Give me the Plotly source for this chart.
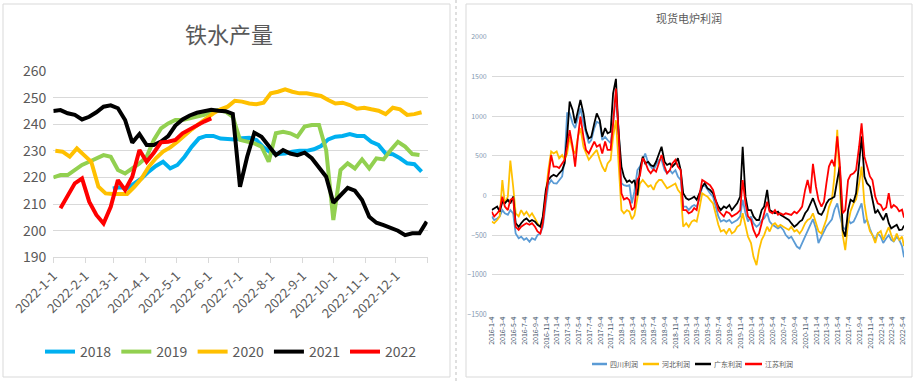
import plotly.graph_objects as go
import pandas as pd

W, H = 916, 381
def px(x): return x / W
def py(y): return 1 - y / H

FONT = "Microsoft YaHei, Noto Sans CJK SC, sans-serif"
GRID = "#d9d9d9"
TXT = "#595959"

# ---------------- Left chart: 铁水产量 (weekly) ----------------
left_title = "铁水产量"
left_years = ["2018", "2019", "2020", "2021", "2022"]
left_colors = ["#00B0F0", "#92D050", "#FFC000", "#000000", "#FF0000"]
left_starts = ["2022-02-28", "2022-01-01", "2022-01-03", "2022-01-01", "2022-01-08"]
left_month_ticks = ["2022-01-01", "2022-02-01", "2022-03-01", "2022-04-01", "2022-05-01", "2022-06-01",
                    "2022-07-01", "2022-08-01", "2022-09-01", "2022-10-01", "2022-11-01", "2022-12-01", "2023-01-01"]
left_tick_labels = ["2022-1-1", "2022-2-1", "2022-3-1", "2022-4-1", "2022-5-1", "2022-6-1",
                    "2022-7-1", "2022-8-1", "2022-9-1", "2022-10-1", "2022-11-1", "2022-12-1", ""]

iron_2018 = [215.9, 216.3, 215.9, 217.8, 219.6, 222.2, 224.3, 225.9, 223.4, 224.7,
             227.8, 231.6, 234.7, 235.6, 235.6, 234.6, 234.6, 234.3, 234.7, 234.9,
             234.1, 231.3, 229.3, 228.8, 229.0, 229.7, 230.0, 230.0, 230.6, 231.8,
             234.3, 235.3, 235.6, 236.3, 235.6, 235.6, 233.4, 232.2, 229.0, 228.7,
             227.2, 225.3, 225.0, 222.2]
iron_2019 = [220.0, 220.9, 220.9, 222.8, 224.7, 225.9, 227.2, 228.4, 227.8, 222.8,
             221.5, 223.4, 225.3, 227.8, 234.1, 238.4, 240.3, 241.6, 241.6, 242.2,
             242.8, 243.5, 244.7, 245.3, 244.7, 242.8, 234.1, 233.4, 232.8, 231.6,
             225.9, 236.6, 237.2, 236.6, 235.3, 239.1, 239.7, 239.7, 230.3, 204.0,
             222.8, 225.3, 223.4, 226.8, 223.4, 227.2, 226.8, 230.3, 233.4, 231.6,
             228.8, 228.4]
iron_2020 = [230.0, 229.7, 227.8, 230.9, 228.4, 225.9, 216.5, 214.0, 213.8, 213.8,
             213.8, 216.5, 219.6, 224.0, 227.2, 229.7, 231.3, 233.4, 235.9, 238.1,
             240.1, 242.2, 244.1, 245.6, 246.6, 248.8, 248.5, 247.8, 247.5, 248.1,
             251.6, 252.2, 253.1, 252.2, 251.6, 251.6, 251.1, 250.6, 249.1, 247.8,
             248.1, 247.2, 245.8, 246.2, 245.6, 245.1, 243.8, 246.2, 245.6, 243.5,
             243.8, 244.5]
iron_2021 = [245.0, 245.3, 244.1, 243.5, 241.8, 242.8, 244.5, 246.6, 247.1, 246.0,
             241.6, 233.1, 236.3, 232.2, 232.2, 233.5, 235.5, 239.5, 241.8, 243.3,
             244.3, 244.8, 245.4, 245.1, 244.9, 243.9, 216.5, 227.8, 236.8, 235.3,
             231.8, 228.4, 230.3, 229.0, 228.4, 229.3, 227.2, 224.0, 220.3, 210.5,
             213.4, 216.1, 215.0, 211.5, 205.2, 203.0, 202.1, 201.2, 200.0, 198.3,
             199.0, 199.0, 203.4]
iron_2022 = [208.4, 212.8, 217.8, 219.6, 210.9, 205.9, 202.7, 209.0, 219.0, 215.3,
             220.3, 230.3, 225.9, 229.3, 233.2, 233.4, 234.1, 236.6, 238.1, 239.7,
             241.0, 242.2]
left_series = [iron_2018, iron_2019, iron_2020, iron_2021, iron_2022]

# ---------------- Right chart: 现货电炉利润 (semi-monthly) ----------------
right_title = "现货电炉利润"
right_names = ["四川利润", "河北利润", "广东利润", "江苏利润"]
right_colors = ["#5B9BD5", "#FFC000", "#000000", "#FF0000"]

profit_sichuan = [
    -265, -310, -290, -265, -185, -225, -245, -185, -225, -480, -540, -520, -560, -540, -585, -540, -560, -500, -480, -395, -100, 130, 195, 155,
    150, 195, 240, 450, 1040, 1040, 910, 850, 995, 1100, 910, 785, 660, 700, 850, 930, 910, 700, 740, 700, 660, 910, 1250, 870,
    155, 130, 120, 130, -100, 50, 320, 365, 450, 530, 405, 365, 320, 385, 450, 450, 320, 280, 320, 280, 320, 240, 195, -140,
    -140, -185, -140, -120, -140, -55, 110, 130, 70, 27, -15, -140, -265, -330, -310, -330, -310, -350, -330, -310, -265, -55, -225, -330,
    -265, -350, -395, -370, -310, -290, -225, -330, -370, -395, -415, -395, -435, -500, -540, -520, -600, -645, -670, -600, -520, -435, -350, -300,
    -420, -600, -520, -450, -390, -350, -300, -180, -100, -250, -400, -430, -300, -350, -330, -265, -180, -100, -350, -300, -420, -500, -560, -480,
    -520, -600, -540, -500, -560, -580, -520, -560, -640, -780]
profit_hebei = [
    -330, -350, -310, -265, 195, -100, -15, 440, 110, -225, -265, -185, -245, -205, -265, -225, -290, -350, -395, -310, 27, 320, 555, 530,
    555, 470, 510, 450, 530, 740, 575, 530, 740, 850, 615, 530, 450, 490, 530, 575, 450, 365, 300, 405, 450, 740, 950, 490,
    -185, -225, -185, -205, -300, -250, -15, 150, 195, 150, 110, 130, 70, 150, 195, 195, 130, 90, 110, 130, 150, 70, 27, -395,
    -350, -395, -330, -310, -330, -185, 27, 5, -15, -55, -100, -225, -370, -455, -435, -480, -415, -480, -455, -395, -370, -225, -395, -520,
    -600, -775, -880, -690, -560, -500, -395, -455, -370, -350, -395, -370, -395, -415, -435, -395, -455, -435, -480, -435, -350, -310, -290, -225,
    -350, -450, -480, -400, -300, -150, -50, 240, 830, 100, -500, -690, -350, -200, -100, -50, 150, 365, -100, -300, -450, -500, -600, -480,
    -450, -560, -480, -400, -500, -580, -480, -560, -520, -640]
profit_guangdong = [
    -185, -160, -140, -205, -80, -100, -55, -100, -15, -350, -395, -350, -310, -290, -330, -310, -330, -370, -395, -265, 70, 195, 240, 260,
    240, 280, 320, 405, 740, 1185, 1080, 910, 1080, 1205, 1035, 825, 720, 740, 910, 1035, 950, 740, 850, 785, 805, 1290, 1471, 827,
    364, 238, 170, 190, 160, 195, 0, 320, 490, 405, 425, 385, 365, 425, 530, 615, 425, 385, 405, 365, 405, 470, 320, 27,
    -35, -55, -35, -15, -55, 27, 110, 155, 90, 70, 27, -55, -140, -185, -140, -160, -120, -185, -140, -100, -15, 615, -15, -185,
    -185, -265, -310, -310, -185, -140, 70, -185, -205, -225, -205, -245, -265, -290, -310, -350, -395, -370, -330, -310, -225, -185, -100, -35,
    -140, -225, -245, -185, -100, -55, -35, -15, 195, 365, -435, -520, -185, -55, -80, 27, 405, 745, 240, 155, 110, -55, -225, -185,
    -265, -310, -225, -350, -415, -395, -370, -435, -430, -380]
profit_jiangsu = [
    -205, -265, -225, -185, -15, -140, -185, -55, -35, -395, -435, -395, -370, -350, -370, -350, -395, -455, -480, -350, -15, 240, 510, 365,
    365, 345, 405, 450, 615, 825, 615, 365, 740, 995, 740, 575, 530, 595, 680, 615, 640, 530, 680, 575, 575, 910, 1350, 825,
    27, -50, -30, -60, -185, -150, 200, 250, 470, 420, 320, 280, 330, 300, 420, 510, 365, 280, 320, 405, 450, 365, 320, -185,
    -185, -225, -205, -160, -185, -15, 195, 175, 155, 130, 70, -55, -185, -225, -265, -205, -225, -265, -245, -225, -185, 195, -100, -265,
    -310, -435, -520, -480, -350, -225, -80, -205, -225, -185, -245, -225, -245, -225, -235, -245, -205, -225, -185, -140, 70, 195, 27, 400,
    110, -55, -140, -80, 155, 365, 450, 365, 745, 405, -225, -185, 195, 260, 280, 320, 615, 910, 490, 365, 240, 195, -15, -100,
    -120, -185, -150, 30, -160, -120, -150, -200, -180, -280]
right_series = [profit_sichuan, profit_hebei, profit_guangdong, profit_jiangsu]

right_tick_dates = ["2016-01-04", "2016-03-04", "2016-05-04", "2016-07-04", "2016-09-04", "2016-11-04",
                    "2017-01-04", "2017-03-04", "2017-05-04", "2017-07-04", "2017-09-04", "2017-11-04",
                    "2018-01-04", "2018-03-04", "2018-05-04", "2018-07-04", "2018-09-04", "2018-11-04",
                    "2019-01-04", "2019-03-04", "2019-05-04", "2019-07-04", "2019-09-04", "2019-11-04",
                    "2020-01-04", "2020-03-04", "2020-05-04", "2020-07-04", "2020-09-04", "2020-11-04",
                    "2021-01-04", "2021-03-04", "2021-05-04", "2021-07-04", "2021-09-04", "2021-11-04",
                    "2022-01-04", "2022-03-04", "2022-05-04"]
right_tick_labels = ["2016-1-4", "2016-3-4", "2016-5-4", "2016-7-4", "2016-9-4", "2016-11-4",
                     "2017-1-4", "2017-3-4", "2017-5-4", "2017-7-4", "2017-9-4", "2017-11-4",
                     "2018-1-4", "2018-3-4", "2018-5-4", "2018-7-4", "2018-9-4", "2018-11-4",
                     "2019-1-4", "2019-3-4", "2019-5-4", "2019-7-4", "2019-9-4", "2019-11-4",
                     "2020-1-4", "2020-3-4", "2020-5-4", "2020-7-4", "2020-9-4", "2020-11-4",
                     "2021-1-4", "2021-3-4", "2021-5-4", "2021-7-4", "2021-9-4", "2021-11-4",
                     "2022-1-4", "2022-3-4", "2022-5-4"]
right_y_ticks = [-1500, -1000, -500, 0, 500, 1000, 1500, 2000]

profit_dates = list(pd.date_range("2016-01-01", "2022-05-01", freq="SMS")) + [pd.Timestamp("2022-05-12")]
for s in right_series:
    assert len(s) == len(profit_dates), (len(s), len(profit_dates))

fig = go.Figure()

for name, col, start, vals in zip(left_years, left_colors, left_starts, left_series):
    dates = pd.date_range(start, periods=len(vals), freq="7D")
    fig.add_trace(go.Scatter(x=dates, y=vals, mode="lines", name=name,
                             line=dict(color=col, width=4), xaxis="x", yaxis="y",
                             showlegend=True, legend="legend"))

for name, col, vals in zip(right_names, right_colors, right_series):
    fig.add_trace(go.Scatter(x=profit_dates, y=vals, mode="lines", name=name,
                             line=dict(color=col, width=1.8), xaxis="x2", yaxis="y2",
                             showlegend=False))

shapes = [
    dict(type="rect", xref="paper", yref="paper", x0=px(3), x1=px(450), y0=py(377), y1=py(4),
         line=dict(color=GRID, width=1), layer="below"),
    dict(type="rect", xref="paper", yref="paper", x0=px(466), x1=px(912), y0=py(377), y1=py(4),
         line=dict(color=GRID, width=1), layer="below"),
    dict(type="line", xref="paper", yref="paper", x0=px(456), x1=px(456), y0=0, y1=1,
         line=dict(color="#bfbfbf", width=1, dash="dot")),
]
annotations = [
    dict(text=left_title, xref="paper", yref="paper", x=px(229), y=py(33), showarrow=False,
         font=dict(size=22, color=TXT, family=FONT), xanchor="center", yanchor="middle"),
    dict(text=right_title, xref="paper", yref="paper", x=px(689), y=py(18.5), showarrow=False,
         font=dict(size=11, color=TXT, family=FONT), xanchor="center", yanchor="middle"),
]
# right legend (compact)
leg_line_x = [(592, 607), (643, 659), (695, 711), (745, 762)]
for (a, b), name, col in zip(leg_line_x, right_names, right_colors):
    shapes.append(dict(type="line", xref="paper", yref="paper", x0=px(a), x1=px(b), y0=py(364), y1=py(364),
                       line=dict(color=col, width=2.5)))
    annotations.append(dict(text=name, xref="paper", yref="paper", x=px(b + 1), y=py(364), showarrow=False,
                            xanchor="left", yanchor="middle", font=dict(size=7, color=TXT, family=FONT)))

fig.update_layout(
    width=W, height=H, margin=dict(l=0, r=0, t=0, b=0, autoexpand=False),
    paper_bgcolor="white", plot_bgcolor="white",
    font=dict(family=FONT, color=TXT),
    xaxis=dict(domain=[px(53.3), px(427.7)], anchor="y", type="date", automargin=False,
               range=["2022-01-01", "2023-01-01"], tickvals=left_month_ticks, ticktext=left_tick_labels,
               tickangle=-45, tickfont=dict(size=13, color=TXT), showgrid=False,
               showline=True, linecolor=GRID, linewidth=1, ticks="outside", ticklen=5, tickcolor=GRID,
               zeroline=False),
    yaxis=dict(domain=[py(257.3), py(71)], anchor="x", range=[190, 260], dtick=10, tick0=190,
               automargin=False,
               tickfont=dict(size=14, color=TXT), showgrid=True, gridcolor=GRID, gridwidth=1,
               zeroline=False, showline=False, ticklabelstandoff=6),
    xaxis2=dict(domain=[px(491.7), px(904)], anchor="y2", type="date", automargin=False,
                range=["2016-01-01", "2022-05-12"], tickvals=right_tick_dates, ticktext=right_tick_labels,
                tickangle=-90, tickfont=dict(size=7, color="#44546a"), showgrid=False,
                showline=False, ticks="", zeroline=False),
    yaxis2=dict(domain=[py(314.3), py(37)], anchor="x2", range=[-1500, 2000], tickvals=right_y_ticks,
                automargin=False,
                tickfont=dict(size=7, color="#8497b0"), showgrid=True, gridcolor=GRID, gridwidth=1,
                zeroline=True, zerolinecolor=GRID, zerolinewidth=1, showline=False, ticklabelstandoff=4),
    legend=dict(orientation="h", x=px(231), xanchor="center", y=py(352), yanchor="middle",
                font=dict(size=14, color=TXT, family=FONT), bgcolor="rgba(0,0,0,0)",
                traceorder="normal", itemwidth=30),
    shapes=shapes, annotations=annotations,
)

fig.write_html("out.html", config={"displayModeBar": False},
               post_script="document.body.style.margin='0';document.body.style.padding='0';document.body.style.overflow='hidden';")
